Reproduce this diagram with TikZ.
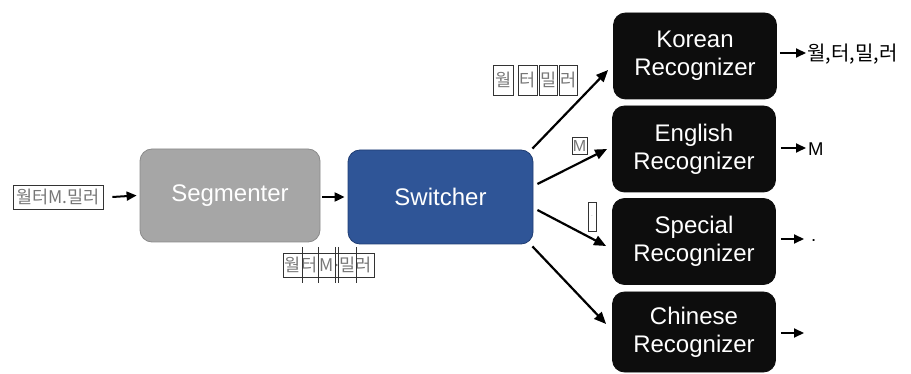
\documentclass[tikz,border=0pt]{standalone}
\usepackage{fontspec}
\setmainfont{Liberation Sans}
\newfontfamily\krfont{Noto Sans CJK KR}
\usetikzlibrary{arrows.meta,calc}

\definecolor{segfill}{HTML}{A6A6A6}
\definecolor{segline}{HTML}{8A8A8A}
\definecolor{swfill}{HTML}{2F5597}
\definecolor{swline}{HTML}{1F3D73}
\definecolor{recfill}{HTML}{0D0D0D}
\definecolor{glyph}{HTML}{767676}

\tikzset{
  stage/.style={rounded corners=12pt, align=center, inner sep=0pt, text=white,
    font=\fontsize{24}{28}\selectfont, line width=0.8pt},
  recog/.style={stage, fill=recfill, draw=recfill, minimum width=163pt, minimum height=86pt},
  arr/.style={line width=2pt, -{Triangle[length=10pt,width=9pt]}},
  darr/.style={line width=2.2pt, -{Triangle[length=12pt,width=10pt]}},
  charbox/.style={draw=black!80, line width=0.8pt, inner sep=0pt, text=glyph,
    font=\krfont\fontsize{17.5}{17.5}\selectfont},
  glyphtxt/.style={inner sep=0pt, text=glyph, font=\krfont\fontsize{17.5}{17.5}\selectfont},
  outtxt/.style={anchor=west, inner sep=0pt, font=\fontsize{18.5}{18.5}\selectfont},
}

\begin{document}
\begin{tikzpicture}[x=1pt,y=-1pt]
\useasboundingbox (0,0) rectangle (911,374);

% input string
\node[charbox, minimum width=90pt, minimum height=24pt] (in) at (58,197) {월터M.밀러};

% main stages
\node[stage, fill=segfill, draw=segline, minimum width=180pt, minimum height=93pt] (seg) at (230,195.5) {Segmenter};
\node[stage, fill=swfill, draw=swline, minimum width=185pt, minimum height=94pt] (sw) at (440.5,197) {Switcher};

% recognizers
\node[recog] (kr) at (695,56) {Korean\\Recognizer};
\node[recog] (en) at (694,149) {English\\Recognizer};
\node[recog] (sp) at (694,241.5) {Special\\Recognizer};
\node[recog, minimum height=80pt] (ch) at (694,332) {Chinese\\Recognizer};

% pipeline arrows
\draw[arr] ($(in.east)+(9,0)$) -- ($(seg.west)+(-3,0)$);
\draw[arr] ($(seg.east)+(2,1.5)$) -- ($(sw.west)+(-3,0)$);

% segmented characters under the switcher
\node[draw=black!80, line width=0.8pt, minimum width=91pt, minimum height=24pt, inner sep=0pt] (segbox) at (328.5,265) {};
\node[glyphtxt] (c1) at (292.5,265) {월};
\node[glyphtxt] (c2) at (310,265) {터};
\node[glyphtxt] (c3) at (326.7,265) {M};
\node[glyphtxt] (c4) at (336.5,266) {.};
\node[glyphtxt] (c5) at (347.3,265) {밀};
\node[glyphtxt] (c6) at (364,265) {러};
\foreach \x in {302,318,335,338,356}
  \draw[line width=0.8pt, black!80] (\x,247) -- (\x,283);

% routed pieces
\node[charbox, minimum width=20pt, minimum height=30pt] (k1) at (503.5,80) {월};
\node[charbox, minimum width=19pt, minimum height=30pt] (k2) at (527.5,80) {터};
\node[charbox, minimum width=18pt, minimum height=30pt] (k3) at (548.5,80) {밀};
\node[charbox, minimum width=18pt, minimum height=30pt] (k4) at (568.5,80) {러};
\node[charbox, minimum width=15pt, minimum height=17pt, font=\fontsize{16}{16}\selectfont] (em) at (579.5,146) {M};
\node[charbox, minimum width=8pt, minimum height=29pt, text=black!25, font=\fontsize{8}{8}\selectfont] (dot) at (592,216.5) {.};

% switcher to recognizers
\draw[darr] ($(sw.north east)+(-1,-1)$) -- ($(kr.west)+(-5,14)$);
\draw[darr] ($(sw.east)+(4,-13)$) -- ($(en.west)+(-5,0)$);
\draw[darr] ($(sw.east)+(4,13)$) -- ($(sp.west)+(-6,4.5)$);
\draw[darr] ($(sw.south east)+(-1,2)$) -- ($(ch.west)+(-6,-8)$);

% recognizer outputs
\coordinate (kro) at (806,53);
\coordinate (eno) at (806,148);
\coordinate (spo) at (804,239);
\coordinate (cho) at (804,333);
\draw[arr] (kr.east |- kro) ++(3,0) -- (kro);
\draw[arr] (en.east |- eno) ++(5,0) -- (eno);
\draw[arr] (sp.east |- spo) ++(5,0) -- (spo);
\draw[arr] (ch.east |- cho) ++(5,0) -- (cho);
\node[outtxt, font=\krfont\fontsize{20}{20}\selectfont] (kout) at (807,54) {월,터,밀,러};
\node[outtxt] (eout) at (808,149) {M};
\node[outtxt] (sout) at (811,241) {.};
\end{tikzpicture}
\end{document}
